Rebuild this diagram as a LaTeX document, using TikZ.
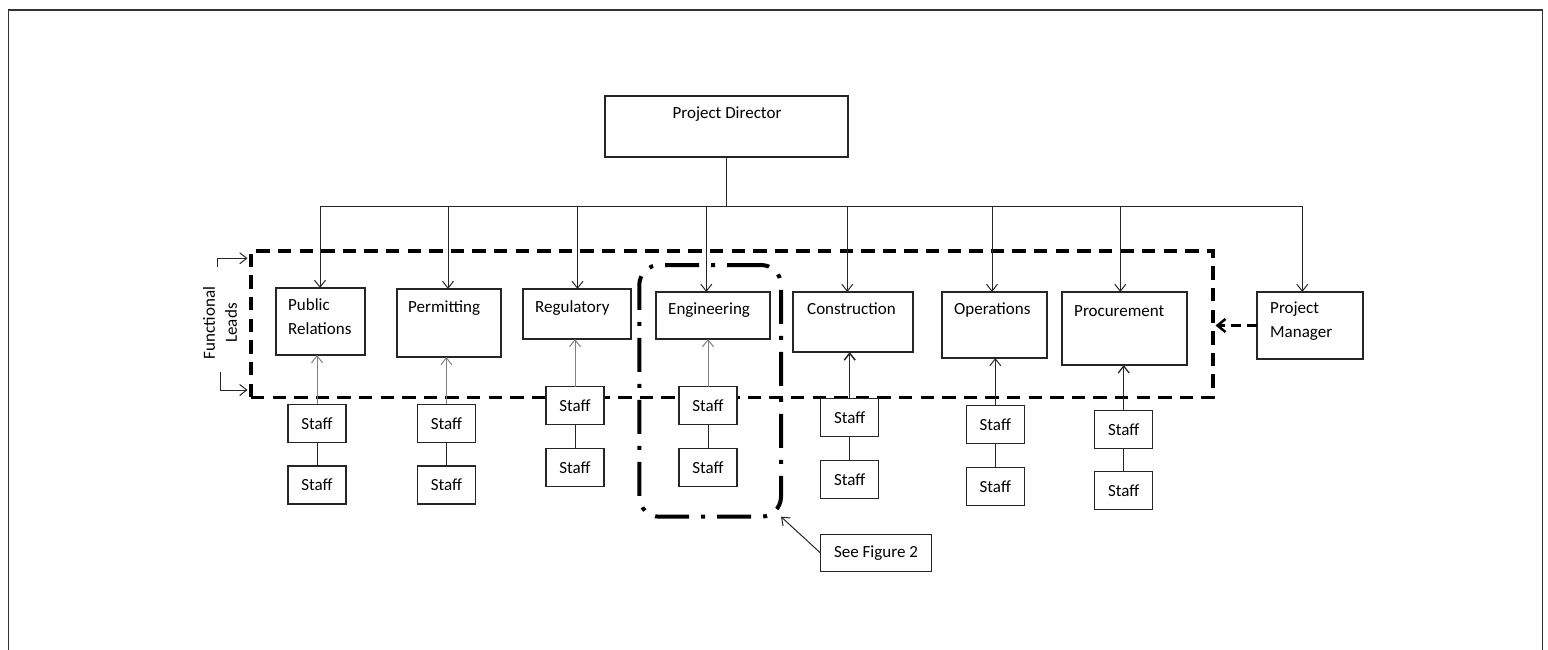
\documentclass[tikz,border=0pt]{standalone}
\usepackage{fontspec}
\setmainfont{Carlito}
\usetikzlibrary{arrows.meta}
\begin{document}
\begin{tikzpicture}[x=1pt,y=-1pt,
  font=\fontsize{17}{24}\selectfont,
  box/.style={draw=black!85, line width=1.1pt, fill=white, inner sep=0pt, outer sep=0pt, anchor=north west},
  staffbox/.style={draw=black!85, line width=1.1pt, fill=white, inner sep=0pt, outer sep=0pt, minimum width=58pt, minimum height=38pt},
  lbl/.style={inner sep=0pt, anchor=base west, align=left},
  lbltwo/.style={inner sep=0pt, anchor=north west, align=left},
  conn/.style={line width=1pt, draw=black!85},
  arr/.style={conn, -{Straight Barb[length=7pt,width=11pt]}},
  grayarr/.style={arr, draw=black!50},
  frameline/.style={line width=1.5pt, draw=black!80},
]
% canvas
\useasboundingbox (0,0) rectangle (1548,650);
\draw[frameline] (8.5,650) -- (8.5,10) -- (1542.7,10) -- (1542.7,650);

% group outlines
\node[draw=black, line width=3.5pt, dash pattern=on 13.3pt off 8.3pt, inner sep=0pt, outer sep=0pt,
      anchor=north west, minimum width=962pt, minimum height=146.7pt] (leads) at (251,251) {};
\node[draw=black, line width=4pt, rounded corners=20pt, dash pattern=on 34pt off 12pt on 4pt off 12pt,
      inner sep=0pt, outer sep=0pt, anchor=north west, minimum width=141.7pt, minimum height=251.7pt] (grp) at (639.3,265) {};

% top
\node[box, minimum width=243pt, minimum height=61pt] (pd) at (605,96) {};
\node[inner sep=0pt, anchor=base] (pdt) at (727,119) {Project Director};

% functional leads
\node[box, minimum width=89pt, minimum height=67pt] (pr) at (276,288) {};
\node[lbltwo] (prt) at (288,298) {Public\\Relations};
\node[box, minimum width=104pt, minimum height=68pt] (pe) at (397,289) {};
\node[lbl] (pet) at (408,312) {Permitting};
\node[box, minimum width=108pt, minimum height=50pt] (re) at (523,289) {};
\node[lbl] (ret) at (535,312) {Regulatory};
\node[box, minimum width=114pt, minimum height=47pt] (en) at (656,292) {};
\node[lbl] (ent) at (668,314) {Engineering};
\node[box, minimum width=120pt, minimum height=60pt] (co) at (793,292) {};
\node[lbl] (cot) at (807,314) {Construction};
\node[box, minimum width=105pt, minimum height=66pt] (op) at (942,292) {};
\node[lbl] (opt) at (954,314) {Operations};
\node[box, minimum width=125pt, minimum height=73pt] (pc) at (1062,292) {};
\node[lbl] (pct) at (1074,316) {Procurement};
\node[box, minimum width=106pt, minimum height=67pt] (pm) at (1257,292) {};
\node[lbltwo] (pmt) at (1270,302) {Project\\Manager};

% staff
\node[staffbox] (pr1) at (317,423.3) {Staff};
\node[staffbox] (pr2) at (317,485) {Staff};
\node[staffbox] (pe1) at (446.4,423.3) {Staff};
\node[staffbox] (pe2) at (446.4,485) {Staff};
\node[staffbox] (re1) at (575,405.5) {Staff};
\node[staffbox] (re2) at (575,467.5) {Staff};
\node[staffbox] (en1) at (708,405.5) {Staff};
\node[staffbox] (en2) at (708,467.5) {Staff};
\node[staffbox] (co1) at (849.7,417.5) {Staff};
\node[staffbox] (co2) at (849.7,479.2) {Staff};
\node[staffbox] (op1) at (995.3,424.7) {Staff};
\node[staffbox] (op2) at (995.3,486.3) {Staff};
\node[staffbox] (pc1) at (1123.7,429.2) {Staff};
\node[staffbox] (pc2) at (1123.7,490.9) {Staff};

% see figure 2
\node[staffbox, minimum width=111pt, minimum height=37pt] (sf) at (876,553) {See Figure 2};

% bus
\coordinate (d1) at (320,206);
\coordinate (d2) at (448,206);
\coordinate (d3) at (577.5,206);
\coordinate (d4) at (706.3,206);
\coordinate (d5) at (847.3,206);
\coordinate (d6) at (992,206);
\coordinate (d7) at (1120.3,206);
\coordinate (d8) at (1302.3,206);
\draw[conn] (d1) -- (d8);
\draw[conn] (pd.south) -- (pd.south |- d1);
\draw[arr] (d1) -- (d1 |- pr.north);
\draw[arr] (d2) -- (d2 |- pe.north);
\draw[arr] (d3) -- (d3 |- re.north);
\draw[arr] (d4) -- (d4 |- en.north);
\draw[arr] (d5) -- (d5 |- co.north);
\draw[arr] (d6) -- (d6 |- op.north);
\draw[arr] (d7) -- (d7 |- pc.north);
\draw[arr] (d8) -- (d8 |- pm.north);

% staff to leads
\draw[grayarr] (pr1.north) -- (pr1.north |- pr.south);
\draw[grayarr] (pe1.north) -- (pe1.north |- pe.south);
\draw[grayarr] (re1.north) -- (re1.north |- re.south);
\draw[grayarr] (en1.north) -- (en1.north |- en.south);
\draw[arr, line width=1.5pt] (co1.north) -- (co1.north |- co.south);
\draw[arr] (op1.north) -- (op1.north |- op.south);
\draw[arr, line width=1.3pt] (pc1.north) -- (pc1.north |- pc.south);
\foreach \c in {pr,pe,re,en,co,op,pc}{\draw[conn] (\c1) -- (\c2);}

% project manager to leads
\draw[line width=3pt, dash pattern=on 10pt off 6pt, shorten >=2.5pt,
      -{Straight Barb[length=8pt,width=13pt,line width=2.5pt]}] (pm.west) -- (pm.west -| leads.east);

% functional leads label and brackets
\node[rotate=90, align=center, inner sep=0pt, font=\fontsize{17}{22}\selectfont] (fl) at (220,323) {Functional\\Leads};
\coordinate (fla) at (217.7,266.7);
\coordinate (flatip) at (247.5,258.3);
\coordinate (flb) at (220,371.7);
\coordinate (flbtip) at (247.5,390);
\draw[arr] (fla) |- (flatip);
\draw[arr] (flb) |- (flbtip);

% see figure 2 pointer
\draw[arr] (sf.west) -- (grp.south east);
\end{tikzpicture}
\end{document}
